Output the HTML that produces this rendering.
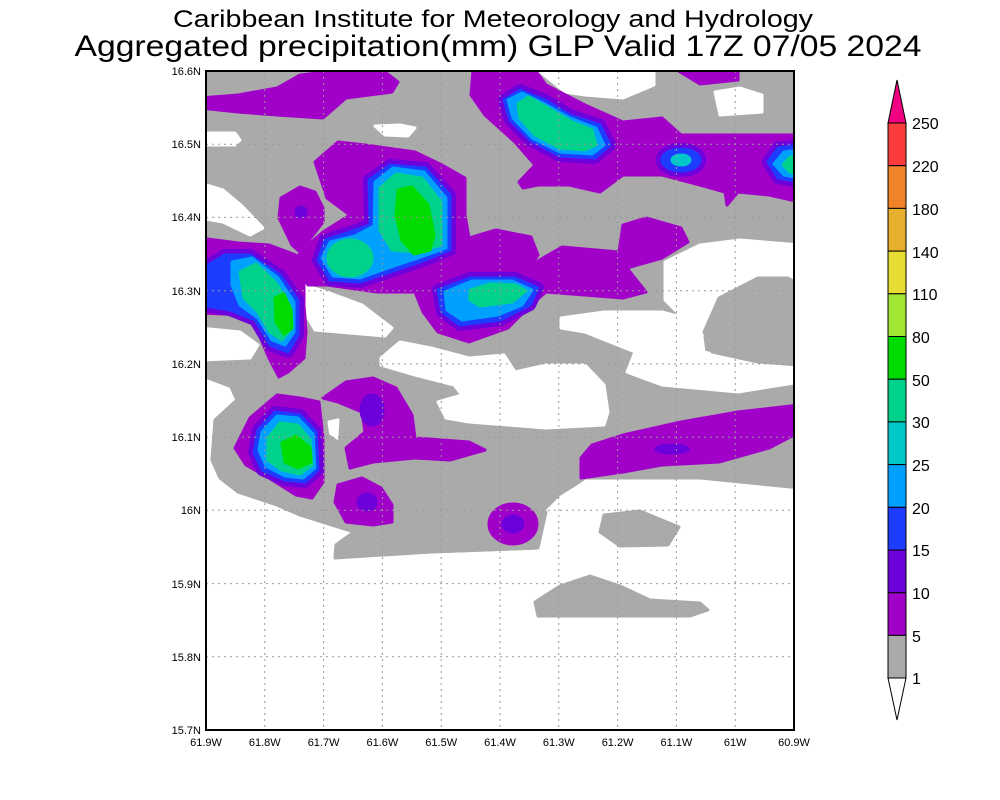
<!DOCTYPE html>
<html><head><meta charset="utf-8"><style>
html,body{margin:0;padding:0;background:#fff;}
svg{display:block;font-family:"Liberation Sans",sans-serif;}
</style></head><body>
<svg width="1000" height="800" viewBox="0 0 1000 800" xmlns="http://www.w3.org/2000/svg">
<rect width="1000" height="800" fill="#fff"/>
<text x="493" y="27" font-size="24" text-anchor="middle" textLength="640" lengthAdjust="spacingAndGlyphs">Caribbean Institute for Meteorology and Hydrology</text>
<text x="498" y="56" font-size="30" text-anchor="middle" textLength="847" lengthAdjust="spacingAndGlyphs">Aggregated precipitation(mm) GLP Valid 17Z 07/05 2024</text>
<defs><clipPath id="c"><rect x="206" y="71" width="588" height="659"/></clipPath></defs>
<g clip-path="url(#c)" stroke-linejoin="round" stroke-width="3">
<g fill="#aaaaaa" stroke="#aaaaaa">
<polygon points="200,65 800,65 800,488 700,478 585,478 561,495 546,512 538,548 430,552 335,558 336,545 354,532 300,515 277,505 238,492 220,478 212,460 215,420 237,400 230,385 200,375"/>
</g>
<g fill="#fff" stroke="#fff">
<polygon points="538,70 654,70 654,85 623,98 585,95 565,92"/>
<polygon points="715,92 740,88 762,95 762,112 720,115"/>
<polygon points="200,133 235,133 240,140 235,145 200,145"/>
<polygon points="375,126 400,125 415,128 408,136 385,135"/>
<polygon points="200,183 223,190 242,206 263,228 250,235 223,222 200,218"/>
<polygon points="304,285 327,292 362,305 392,328 385,336 315,330 308,318"/>
<polygon points="200,328 240,332 258,345 250,358 200,360"/>
<polygon points="381,358 400,342 431,348 469,358 504,355 515,372 546,365 585,365 604,385 608,412 604,425 546,428 508,425 469,422 446,418 438,402 462,395 454,385 415,375 381,365"/>
<polygon points="665,262 700,245 740,240 800,245 800,280 760,285 745,310 740,330 700,335 665,300"/>
<polygon points="561,318 604,312 662,312 700,322 704,352 758,365 800,365 800,382 738,392 662,385 627,372 635,352 585,332 561,328"/>
<polygon points="200,560 335,560 430,556 538,552 546,512 561,497 585,482 700,482 800,492 800,740 200,740"/>
<polygon points="415,482 469,485 469,505 431,508 415,498"/>
<polygon points="329,422 338,420 335,465"/>
</g>
<g fill="#aaaaaa" stroke="#aaaaaa">
<polygon points="704,332 719,298 758,278 788,278 800,285 800,365 758,362 712,352"/>
<polygon points="604,515 640,511 679,527 668,545 620,546 600,532"/>
<polygon points="535,602 560,586 590,576 620,586 650,600 700,603 708,610 690,616 620,616 538,616"/>
<polygon points="200,375 230,385 237,400 215,420 212,460 220,478 238,492 277,505 300,515 354,532 336,545 335,558 430,552 538,548 546,512 530,510 500,500 470,480 415,480 380,470 320,430 240,390"/>
</g>
<g fill="#a000c8" stroke="#a000c8">
<polygon points="200,98 238,95 277,88 300,75 327,72 385,72 398,82 392,92 346,98 323,118 277,115 238,112 200,108"/>
<polygon points="473,70 535,70 546,85 585,105 623,122 662,118 681,135 800,135 800,202 769,195 738,192 727,205 725,192 700,185 662,175 623,175 600,192 569,185 538,185 523,188 519,182 535,165 515,142 485,115 471,95"/>
<polygon points="677,70 738,70 738,80 700,84"/>
<polygon points="200,238 238,243 269,245 296,255 304,282 304,305 306,332 304,358 288,372 279,377 269,358 258,332 246,315 200,313"/>
<polygon points="315,162 338,142 365,145 415,152 442,165 465,178 465,215 469,238 496,230 531,237 538,255 531,265 562,247 619,252 623,225 646,218 681,228 688,242 662,258 627,268 646,292 623,298 546,292 531,305 508,328 469,342 438,332 423,312 415,292 377,292 327,285 308,285 296,265 300,252 323,232 350,215 327,198"/>
<polygon points="281,198 300,187 315,192 323,208 323,222 300,252 292,245 279,218"/>
<polygon points="235,448 250,418 277,395 300,398 319,402 323,438 323,482 312,498 296,495 269,478 246,465"/>
<polygon points="323,398 346,382 373,378 396,388 412,415 415,438 469,442 485,450 450,460 415,458 373,462 350,468 346,448 365,432 362,412 338,402"/>
<polygon points="338,485 362,478 381,488 392,505 392,522 373,525 346,522 335,502"/>
<ellipse cx="513" cy="524" rx="24" ry="20"/>
<polygon points="581,458 592,445 623,435 681,422 738,412 800,405 800,432 769,448 719,462 662,465 623,472 581,478"/>
</g>
<g fill="#6e00dc" stroke="#6e00dc">
<ellipse cx="372" cy="410" rx="11" ry="15"/>
<ellipse cx="367" cy="502" rx="9" ry="8"/>
<ellipse cx="513" cy="524" rx="10" ry="8"/>
<ellipse cx="672" cy="449" rx="16" ry="4"/>
<ellipse cx="301" cy="212" rx="5" ry="5"/>
</g>
<g fill="#6e00dc" stroke="#6e00dc" stroke-width="12">
<polygon points="504,100 520,90 545,100 570,115 600,125 610,145 595,158 560,156 530,140 510,120"/>
<polygon points="369,180 390,165 425,168 450,195 450,250 420,262 390,272 360,282 330,280 318,260 325,240 350,232 370,225"/>
<polygon points="438,290 470,278 515,278 538,288 530,305 500,320 460,325 442,312"/>
<polygon points="200,270 225,255 250,255 280,275 298,300 298,335 288,352 270,345 255,320 230,310 200,305"/>
<polygon points="258,430 275,412 300,415 316,432 318,470 305,482 285,480 262,470 254,452"/>
<ellipse cx="681" cy="160" rx="19" ry="11"/>
<polygon points="800,145 778,148 768,162 778,178 800,182"/>
</g>
<g fill="#1e3cff" stroke="#1e3cff">
<polygon points="504,100 520,90 545,100 570,115 600,125 610,145 595,158 560,156 530,140 510,120"/>
<polygon points="369,180 390,165 425,168 450,195 450,250 420,262 390,272 360,282 330,280 318,260 325,240 350,232 370,225"/>
<polygon points="438,290 470,278 515,278 538,288 530,305 500,320 460,325 442,312"/>
<polygon points="200,270 225,255 250,255 280,275 298,300 298,335 288,352 270,345 255,320 230,310 200,305"/>
<polygon points="258,430 275,412 300,415 316,432 318,470 305,482 285,480 262,470 254,452"/>
<ellipse cx="681" cy="160" rx="19" ry="11"/>
<polygon points="800,145 778,148 768,162 778,178 800,182"/>
</g>
<g fill="#00a0ff" stroke="#00a0ff">
<polygon points="508,100 522,93 545,104 570,118 596,128 604,145 592,154 560,152 532,138 513,118"/>
<polygon points="375,182 393,168 424,172 446,198 446,248 418,258 388,268 360,278 333,276 322,258 330,242 355,236 374,226"/>
<polygon points="445,292 472,281 512,281 532,290 522,305 498,315 462,320 447,310"/>
<polygon points="232,262 252,258 278,278 294,302 294,332 285,345 272,340 258,318 240,305 232,285"/>
<polygon points="262,432 277,416 298,418 313,434 315,468 303,478 285,476 266,466 259,450"/>
<polygon points="800,150 784,152 774,164 784,175 800,178"/>
</g>
<g fill="#00d28c" stroke="#00d28c">
<polygon points="518,104 528,97 548,108 572,122 592,130 596,145 585,150 560,148 535,135 520,118"/>
<polygon points="380,188 396,174 422,178 441,202 441,245 416,252 392,250 380,230"/>
<ellipse cx="350" cy="258" rx="22" ry="18"/>
<polygon points="470,290 490,284 515,285 526,291 512,302 480,306 470,300"/>
<polygon points="240,272 256,264 276,283 290,306 290,330 282,340 270,332 258,312 244,298"/>
<polygon points="268,438 280,423 298,425 310,440 312,465 300,474 282,470 268,460"/>
<polygon points="800,156 790,157 783,165 790,172 800,174"/>
</g>
<g fill="#00c8c8" stroke="#00c8c8"><ellipse cx="681" cy="160" rx="9" ry="5"/></g>
<g fill="#00dc00" stroke="#00dc00">
<polygon points="398,190 412,187 428,205 434,235 430,250 414,254 402,240 396,215"/>
<polygon points="275,298 284,294 291,310 292,328 284,334 276,322"/>
<polygon points="282,443 296,436 310,448 311,462 298,468 285,462"/>
</g>
</g>
<g stroke="#999" stroke-width="1" stroke-dasharray="2,4" fill="none">
<line x1="264.8" y1="71" x2="264.8" y2="730"/><line x1="323.6" y1="71" x2="323.6" y2="730"/><line x1="382.4" y1="71" x2="382.4" y2="730"/><line x1="441.2" y1="71" x2="441.2" y2="730"/><line x1="500" y1="71" x2="500" y2="730"/><line x1="558.8" y1="71" x2="558.8" y2="730"/><line x1="617.6" y1="71" x2="617.6" y2="730"/><line x1="676.4" y1="71" x2="676.4" y2="730"/><line x1="735.2" y1="71" x2="735.2" y2="730"/>
<line x1="206" y1="144.2" x2="794" y2="144.2"/><line x1="206" y1="217.4" x2="794" y2="217.4"/><line x1="206" y1="290.7" x2="794" y2="290.7"/><line x1="206" y1="363.9" x2="794" y2="363.9"/><line x1="206" y1="437.1" x2="794" y2="437.1"/><line x1="206" y1="510.3" x2="794" y2="510.3"/><line x1="206" y1="583.6" x2="794" y2="583.6"/><line x1="206" y1="656.8" x2="794" y2="656.8"/>
</g>
<rect x="206" y="71" width="588" height="659" fill="none" stroke="#000" stroke-width="2"/>
<g font-size="11" fill="#000" text-anchor="end">
<text x="201" y="75">16.6N</text><text x="201" y="148">16.5N</text><text x="201" y="221">16.4N</text><text x="201" y="295">16.3N</text><text x="201" y="368">16.2N</text><text x="201" y="441">16.1N</text><text x="201" y="514">16N</text><text x="201" y="588">15.9N</text><text x="201" y="661">15.8N</text><text x="201" y="734">15.7N</text>
</g>
<g font-size="11" fill="#000" text-anchor="middle">
<text x="206" y="746">61.9W</text><text x="264.8" y="746">61.8W</text><text x="323.6" y="746">61.7W</text><text x="382.4" y="746">61.6W</text><text x="441.2" y="746">61.5W</text><text x="500" y="746">61.4W</text><text x="558.8" y="746">61.3W</text><text x="617.6" y="746">61.2W</text><text x="676.4" y="746">61.1W</text><text x="735.2" y="746">61W</text><text x="794" y="746">60.9W</text>
</g>
<g stroke="#000" stroke-width="1">
<polygon points="888,123 906,123 897,80" fill="#f00082"/>
<rect x="888" y="123" width="18" height="42.7" fill="#fa3c3c"/>
<rect x="888" y="165.7" width="18" height="42.7" fill="#f08228"/>
<rect x="888" y="208.4" width="18" height="42.7" fill="#e6af2d"/>
<rect x="888" y="251.1" width="18" height="42.7" fill="#e6dc32"/>
<rect x="888" y="293.8" width="18" height="42.7" fill="#a0e632"/>
<rect x="888" y="336.5" width="18" height="42.7" fill="#00dc00"/>
<rect x="888" y="379.2" width="18" height="42.7" fill="#00d28c"/>
<rect x="888" y="421.9" width="18" height="42.7" fill="#00c8c8"/>
<rect x="888" y="464.6" width="18" height="42.7" fill="#00a0ff"/>
<rect x="888" y="507.3" width="18" height="42.7" fill="#1e3cff"/>
<rect x="888" y="550" width="18" height="42.7" fill="#6e00dc"/>
<rect x="888" y="592.7" width="18" height="42.7" fill="#a000c8"/>
<rect x="888" y="635.4" width="18" height="42.7" fill="#aaaaaa"/>
<polygon points="888,678 906,678 897,720" fill="#fff"/>
</g>
<g font-size="16" fill="#000">
<text x="912" y="129">250</text><text x="912" y="172">220</text><text x="912" y="215">180</text><text x="912" y="258">140</text><text x="912" y="300">110</text><text x="912" y="343">80</text><text x="912" y="386">50</text><text x="912" y="428">30</text><text x="912" y="471">25</text><text x="912" y="514">20</text><text x="912" y="556">15</text><text x="912" y="599">10</text><text x="912" y="642">5</text><text x="912" y="684">1</text>
</g>
</svg>
</body></html>
